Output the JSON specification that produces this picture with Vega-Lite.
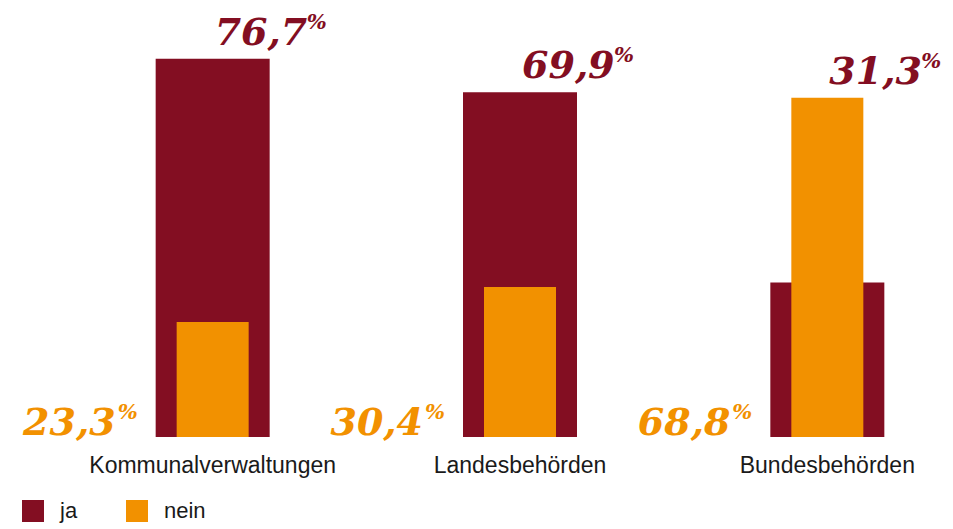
{
  "$schema": "https://vega.github.io/schema/vega-lite/v6.json",
  "width": 953,
  "height": 437,
  "autosize": "none",
  "padding": {"left": 0, "top": 0, "right": 0, "bottom": 92},
  "background": "white",
  "config": {
    "view": {"stroke": null},
    "locale": {"number": {"decimal": ",", "thousands": ".", "grouping": [3], "currency": ["", " €"]}}
  },
  "data": {
    "values": [
      {"category": "Kommunalverwaltungen", "answer": "ja", "value": 76.7},
      {"category": "Landesbehörden", "answer": "ja", "value": 69.9},
      {"category": "Bundesbehörden", "answer": "ja", "value": 31.3},
      {"category": "Kommunalverwaltungen", "answer": "nein", "value": 23.3},
      {"category": "Landesbehörden", "answer": "nein", "value": 30.4},
      {"category": "Bundesbehörden", "answer": "nein", "value": 68.8}
    ]
  },
  "transform": [
    {"joinaggregate": [{"op": "max", "field": "value", "as": "top"}], "groupby": ["category"]}
  ],
  "encoding": {
    "x": {
      "field": "category",
      "type": "nominal",
      "sort": ["Kommunalverwaltungen", "Landesbehörden", "Bundesbehörden"],
      "scale": {"range": [59, 981], "paddingInner": 0, "paddingOuter": 0},
      "axis": {
        "title": null,
        "domain": false,
        "ticks": false,
        "tickSize": 0,
        "grid": false,
        "labelAngle": 0,
        "labelPadding": 35,
        "labelBaseline": "alphabetic",
        "labelFont": "Liberation Sans",
        "labelFontSize": 23,
        "labelLimit": 0,
        "labelColor": "#1a1a1a"
      }
    }
  },
  "layer": [
    {
      "transform": [{"filter": "datum.answer === 'ja'"}],
      "mark": {"type": "bar", "width": 114, "stroke": null},
      "encoding": {
        "y": {"field": "value", "type": "quantitative", "stack": null, "scale": {"domain": [0, 88.6], "nice": false}, "axis": null},
        "color": {
          "field": "answer",
          "type": "nominal",
          "scale": {"domain": ["ja", "nein"], "range": ["#830E22", "#F29100"]},
          "legend": {
            "title": null,
            "orient": "none",
            "direction": "horizontal",
            "legendX": 22,
            "legendY": 500,
            "symbolType": "square",
            "symbolSize": 484,
            "symbolStrokeWidth": 0,
            "symbolOpacity": 1,
            "labelOffset": 16,
            "columnPadding": 48,
            "labelFont": "Liberation Sans",
            "labelFontSize": 22,
            "labelColor": "#1a1a1a",
            "padding": 0
          }
        }
      }
    },
    {
      "transform": [{"filter": "datum.answer === 'nein'"}],
      "mark": {"type": "bar", "width": 72, "stroke": null},
      "encoding": {
        "y": {"field": "value", "type": "quantitative", "stack": null},
        "color": {"field": "answer", "type": "nominal"}
      }
    },
    {
      "transform": [{"filter": "datum.answer === 'ja'"}],
      "mark": {"type": "text", "align": "left", "baseline": "alphabetic", "dx": 2, "dy": -14, "font": "DejaVu Serif", "fontSize": 38, "fontWeight": "bold", "fontStyle": "italic", "color": "#830E22"},
      "encoding": {
        "y": {"field": "top", "type": "quantitative"},
        "text": {"field": "value", "type": "quantitative", "format": ".1f"}
      }
    },
    {
      "transform": [{"filter": "datum.answer === 'ja'"}],
      "mark": {"type": "text", "align": "left", "baseline": "alphabetic", "dx": 94, "dy": -30, "font": "DejaVu Serif", "fontSize": 21, "fontWeight": "bold", "fontStyle": "italic", "color": "#830E22"},
      "encoding": {
        "y": {"field": "top", "type": "quantitative"},
        "text": {"value": "%"}
      }
    },
    {
      "transform": [{"filter": "datum.answer === 'nein'"}],
      "mark": {"type": "text", "align": "right", "baseline": "alphabetic", "dx": -97, "dy": -2, "font": "DejaVu Serif", "fontSize": 38, "fontWeight": "bold", "fontStyle": "italic", "color": "#F29100"},
      "encoding": {
        "y": {"datum": 0, "type": "quantitative"},
        "text": {"field": "value", "type": "quantitative", "format": ".1f"}
      }
    },
    {
      "transform": [{"filter": "datum.answer === 'nein'"}],
      "mark": {"type": "text", "align": "left", "baseline": "alphabetic", "dx": -95, "dy": -18, "font": "DejaVu Serif", "fontSize": 21, "fontWeight": "bold", "fontStyle": "italic", "color": "#F29100"},
      "encoding": {
        "y": {"datum": 0, "type": "quantitative"},
        "text": {"value": "%"}
      }
    }
  ]
}
